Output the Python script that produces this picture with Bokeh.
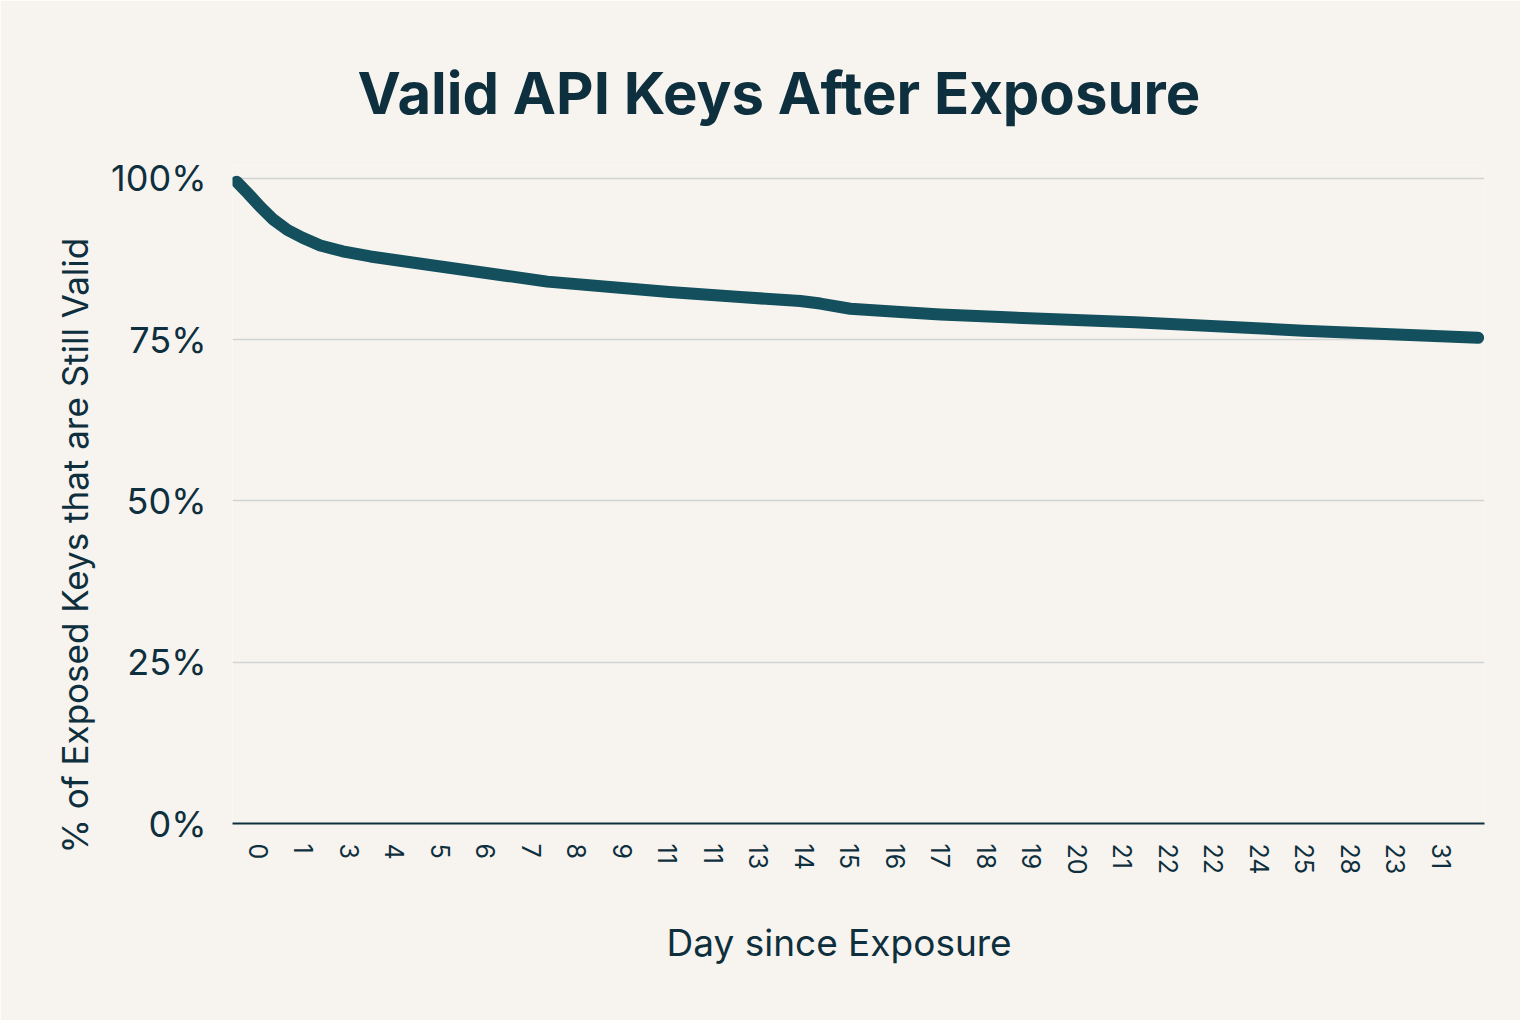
from bokeh.plotting import figure
from bokeh.models import Range1d, FixedTicker, Title
from bokeh.embed import file_html
from bokeh.resources import INLINE

# ---- data ----
day_labels = ["0", "1", "3", "4", "5", "6", "7", "8", "9", "11", "11", "13", "14",
              "15", "16", "17", "18", "19", "20", "21", "22", "22", "24", "25",
              "28", "23", "31"]
# curve positions along the category axis (index units) and % still valid
curve_pos = [-0.48, -0.22, 0.04, 0.33, 0.64, 0.97, 1.36, 1.85, 2.46, 3.65, 6.35,
             9.03, 10.59, 11.91, 12.35, 13.01, 14.11, 14.99, 16.31, 19.27, 22.97, 26.81]
curve_pct = [99.5, 97.6, 95.6, 93.6, 92.0, 90.8, 89.6, 88.7, 87.9, 86.7, 84.0,
             82.4, 81.6, 81.0, 80.6, 79.8, 79.3, 78.9, 78.5, 77.7, 76.4, 75.3]
pct_ticks = [0, 25, 50, 75, 100]
pct_labels = ["0%", "25%", "50%", "75%", "100%"]

BG = "#f7f4ef"
INK = "#0e2f3d"
LINE = "#134f5c"
FONT = "Inter"

p = figure(width=1520, height=1020, output_backend="svg", toolbar_location=None,
           x_range=Range1d(-0.57, 26.95), y_range=Range1d(0, 102),
           min_border_left=232, min_border_right=36, min_border_bottom=197,
           min_border_top=165)
p.background_fill_color = BG
p.border_fill_color = BG
p.outline_line_color = None

p.title = Title(text="Valid API Keys After Exposure", align="left",
                text_font=FONT, text_font_size="58px", text_font_style="bold",
                text_color=INK, offset=125, standoff=75)

p.line(curve_pos, curve_pct, line_color=LINE, line_width=12,
       line_cap="round", line_join="round")

# x axis
p.xaxis.ticker = FixedTicker(ticks=list(range(len(day_labels))))
p.xaxis.major_label_overrides = {i: s for i, s in enumerate(day_labels)}
p.xaxis.major_label_orientation = "vertical"
p.xaxis.major_label_text_font = FONT
p.xaxis.major_label_text_font_size = "25px"
p.xaxis.major_label_text_color = INK
p.xaxis.major_label_standoff = 14
p.xaxis.major_tick_line_color = None
p.xaxis.minor_tick_line_color = None
p.xaxis.axis_line_color = INK
p.xaxis.axis_line_width = 2

xlab = Title(text="Day since Exposure", align="left", vertical_align="top",
             text_font=FONT, text_font_size="37px", text_font_style="normal",
             text_color=INK, offset=434, standoff=85)
p.add_layout(xlab, "below")

# y axis
p.yaxis.ticker = FixedTicker(ticks=pct_ticks)
p.yaxis.major_label_overrides = {t: s for t, s in zip(pct_ticks, pct_labels)}
p.yaxis.major_label_text_font = FONT
p.yaxis.major_label_text_font_size = "36px"
p.yaxis.major_label_text_color = INK
p.yaxis.major_label_standoff = 20
p.yaxis.major_tick_line_color = None
p.yaxis.minor_tick_line_color = None
p.yaxis.axis_line_color = None

ylab = Title(text="% of Exposed Keys that are Still Valid", align="left",
             text_font=FONT, text_font_size="35px", text_font_style="normal",
             text_color=INK, offset=-30, standoff=25)
p.add_layout(ylab, "left")

p.xgrid.grid_line_color = None
p.ygrid.grid_line_color = "#cfd3d1"
p.ygrid.grid_line_width = 1.5

open("out.html", "w").write(file_html(p, INLINE))
